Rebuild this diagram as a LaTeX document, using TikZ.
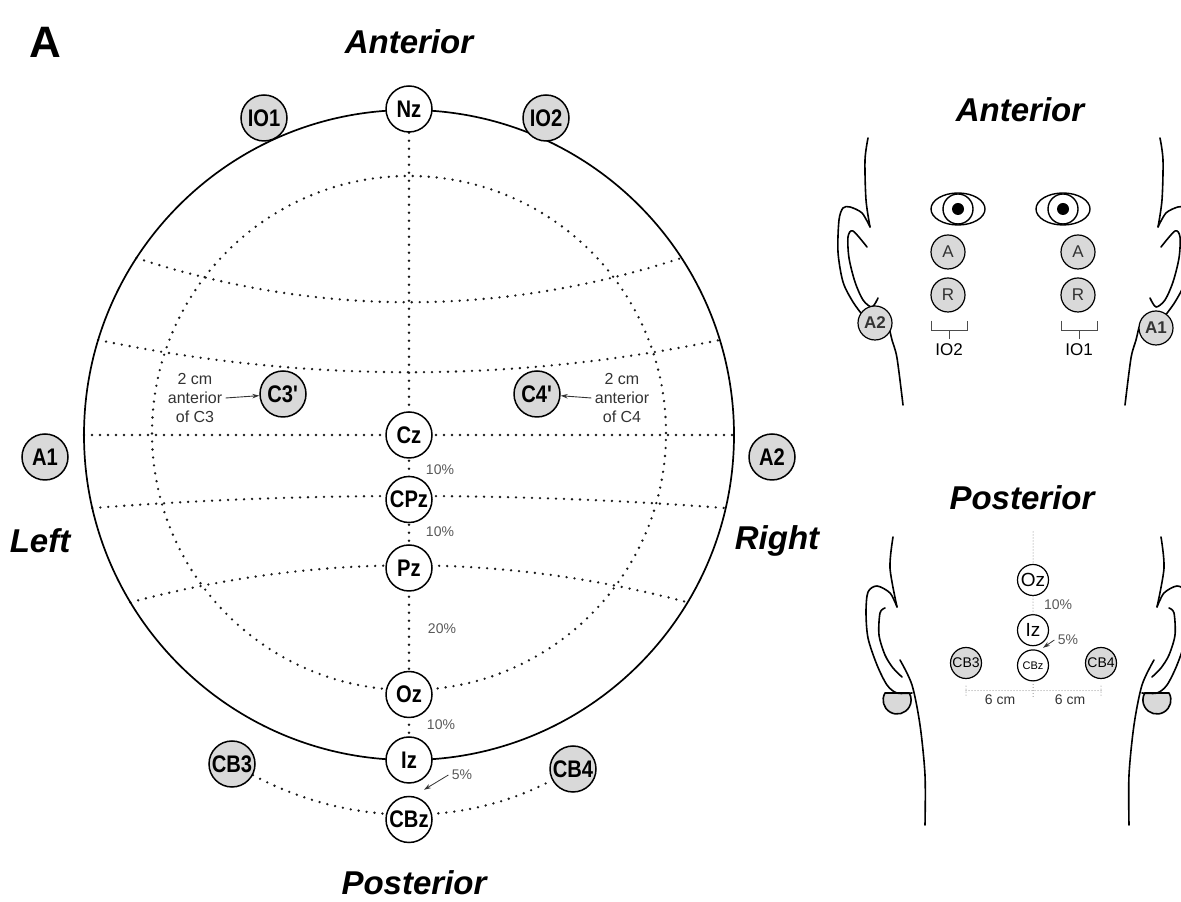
\documentclass[tikz,border=0pt]{standalone}
\usepackage{fontspec}
\setmainfont{Liberation Sans}
\setsansfont{Liberation Sans}
\newfontfamily\narrowsf[FakeStretch=0.84]{Liberation Sans}
\usepackage{tikz}
\usetikzlibrary{positioning,arrows.meta,calc,backgrounds}

\begin{document}
\begin{tikzpicture}[
    x=1pt, y=1pt,
    head/.style={circle, draw=black, line width=1.7pt, minimum size=650pt, inner sep=0pt, outer sep=0pt},
    elec/.style={circle, draw=black, line width=1.5pt, fill=white, minimum size=46pt, inner sep=0pt, font=\narrowsf\bfseries\fontsize{24}{26}\selectfont},
    refelec/.style={elec, fill=black!15},
    faceelec/.style={circle, draw=black, line width=1.2pt, fill=black!15, minimum size=34pt, inner sep=0pt, text=black!80, font=\fontsize{17}{19}\selectfont},
    backelec/.style={circle, draw=black, line width=1.2pt, fill=white, minimum size=31pt, inner sep=0pt, font=\fontsize{19}{21}\selectfont},
    side/.style={font=\bfseries\itshape\fontsize{33}{36}\selectfont},
    pct/.style={font=\fontsize{14}{16}\selectfont, text=black!65},
    note/.style={align=center, font=\fontsize{16}{19}\selectfont, text=black!80},
    gridline/.style={line width=2.6pt, dash pattern=on 0pt off 8pt, line cap=round, black!90},
    finedots/.style={line width=1pt, dash pattern=on 0pt off 3pt, line cap=round, black!55},
    pointer/.style={-{Stealth[length=7pt,width=4.5pt]}, line width=0.9pt, black!80},
    contour/.style={line width=1.6pt, line cap=round, line join=round},
    bracket/.style={line width=1pt, black!70}
]
\useasboundingbox (0,0) rectangle (1181,902);

% --- top view of the scalp ---
\node[font=\bfseries\fontsize{44}{48}\selectfont] (panel) at (45,860) {A};
\node[side] (ant) at (409,860) {Anterior};
\node[side] (post) at (414,19) {Posterior};
\node[side] (lft) at (40,361) {Left};
\node[side] (rgt) at (777,361) {Right};

\node[head] (head) at (409,467) {};

\node[elec] (Nz) at (409,793) {Nz};
\node[refelec] (IO1) at (264,784) {IO1};
\node[refelec] (IO2) at (546,784) {IO2};
\node[refelec] (A1) at (45,445) {A1};
\node[refelec] (A2) at (772,445) {A2};
\node[refelec] (C3p) at (283,508) {C3\textquotesingle};
\node[refelec] (C4p) at (537,508) {C4\textquotesingle};

\node[elec] (Cz) at (409,467) {Cz};
\node[elec, below=17pt of Cz] (CPz) {CPz};
\node[elec, below=21pt of CPz] (Pz) {Pz};
\node[elec, below=79pt of Pz] (Oz) {Oz};
\node[elec, below=18pt of Oz] (Iz) {Iz};
\node[elec, below=12pt of Iz] (CBz) {CBz};
\node[refelec] (CB3) at (232,138) {CB3};
\node[refelec] (CB4) at (573,133) {CB4};

\node[note] (c3note) at (195,504) {2 cm\\anterior\\of C3};
\node[note] (c4note) at (622,504) {2 cm\\anterior\\of C4};
\draw[pointer] (c3note.east) -- (C3p);
\draw[pointer] (c4note.west) -- (C4p);

\node[pct] (p1) at (440,432) {10\%};
\node[pct] (p2) at (440,370) {10\%};
\node[pct] (p3) at (442,273) {20\%};
\node[pct] (p4) at (441,177) {10\%};
\node[pct] (p5) at (462,127) {5\%};
\draw[pointer, line width=0.8pt] (p5.west) -- ([xshift=15pt]$(Iz.south)!0.5!(CBz.north)$);

% dotted grid behind the electrodes
\begin{scope}[on background layer]
  \draw[gridline] (409,469) circle[radius=257];
  \draw[gridline] (Nz) -- (Iz);
  \draw[gridline] (head.west) -- (head.east);
  \draw[gridline] (head.147) .. controls (318,585) and (500,585) .. (head.33);
  \draw[gridline] (head.163) .. controls (306,519) and (512,519) .. (head.17);
  \draw[gridline] (head.193) .. controls (303,410) and (515,410) .. (head.347);
  \draw[gridline] (head.211) .. controls (316,349) and (502,349) .. (head.329);
  \draw[gridline] (CB3) .. controls (350,75) and (464,75) .. (CB4);
\end{scope}

% --- front view: face outline, left half and its mirror ---
\node[side] (ant2) at (1020,792) {Anterior};
\foreach \flip/\shift in {1/0, -1/2028} {
  \begin{scope}[xshift=\shift, xscale=\flip]
    \draw[contour] plot[smooth] coordinates {(868,764) (865,742) (866,702) (870,675)};
    \draw[contour] plot[smooth] coordinates {(870,675) (862,689) (850,695) (843,694) (839,682) (838,650) (843,620) (853,600) (864,585)};
    \draw[contour] plot[smooth] coordinates {(867,655) (853,671) (848,665) (849,644) (855,620) (863,602) (872,595) (878,604)};
    \draw[contour] plot[smooth] coordinates {(889,575) (892,562) (897,544) (903,497)};
  \end{scope}
}
\node[faceelec] (A2f) at (875,579) {\bfseries A2};
\node[faceelec] (A1f) at (1156,574) {\bfseries A1};

\foreach \ex in {958,1063} {
  \draw[line width=1.4pt] (\ex,693) ellipse[x radius=27, y radius=16];
  \draw[line width=1.4pt] (\ex,693) circle[radius=15];
  \fill (\ex,693) circle[radius=6];
}
\node[faceelec] (Al) at (948,650) {A};
\node[faceelec] (Rl) at (948,607) {R};
\node[faceelec] (Ar) at (1078,650) {A};
\node[faceelec] (Rr) at (1078,607) {R};
\foreach \r/\lab in {Rl/IO2, Rr/IO1} {
  \draw[bracket] ([shift={(-17,-8)}]\r.south) -- ++(0,-10) -- ++(36,0) -- ++(0,10);
  \draw[bracket] ([shift={(1,-18)}]\r.south) -- ++(0,-8)
    node[below=1pt, font=\fontsize{17}{19}\selectfont, text=black] (lab\lab) {\lab};
}

% --- back view: head outline with ear lobes ---
\node[side] (post2) at (1022,404) {Posterior};
\foreach \flip/\shift in {1/0, -1/2054} {
  \begin{scope}[xshift=\shift, xscale=\flip]
    \filldraw[contour, fill=black!15] (885,209) arc[start angle=150, end angle=390, radius=14] -- cycle;
    \draw[contour] plot[smooth] coordinates {(893,365) (890,334) (897,295)};
    \draw[contour] plot[smooth] coordinates {(897,295) (890,309) (877,316) (868,310) (866,290) (868,264) (877,237) (887,217) (897,209) (912,209)};
    \draw[contour] plot[smooth] coordinates {(885,294) (880,289) (879,267) (885,247) (893,234) (902,225)};
    \draw[contour] plot[smooth] coordinates {(900,242) (912,217) (920,177) (925,127) (925,77)};
  \end{scope}
}
\coordinate (ozTop) at (1033,370);
\node[backelec] (Oz2) at (1033,322) {Oz};
\node[backelec, below=18pt of Oz2] (Iz2) {Iz};
\node[backelec, below=3pt of Iz2, font=\fontsize{11}{12}\selectfont] (CBz2) {CBz};
\node[backelec, fill=black!15, font=\fontsize{14}{16}\selectfont] (CB3b) at (966,239) {CB3};
\node[backelec, fill=black!15, font=\fontsize{14}{16}\selectfont] (CB4b) at (1101,239) {CB4};
\draw[finedots] (ozTop) -- (Oz2);
\draw[finedots] (Oz2) -- (Iz2);

\node[pct] (q1) at (1058,297) {10\%};
\node[pct] (q2) at (1068,262) {5\%};
\draw[pointer, line width=0.8pt] (q2.west) -- ([xshift=10pt]$(Iz2.south)!0.5!(CBz2.north)$);

\draw[finedots] ([yshift=-7pt]CB3b.south) -- ++(0,-10);
\draw[finedots] ([yshift=-7pt]CB4b.south) -- ++(0,-10);
\draw[finedots] (CBz2.south) -- ++(0,-17);
\draw[finedots] ([yshift=-11.5pt]CB3b.south) -- ([yshift=-11.5pt]CB4b.south);
\node[pct, text=black!80] (d1) at (1000,202) {6 cm};
\node[pct, text=black!80] (d2) at (1070,202) {6 cm};

\end{tikzpicture}
\end{document}
